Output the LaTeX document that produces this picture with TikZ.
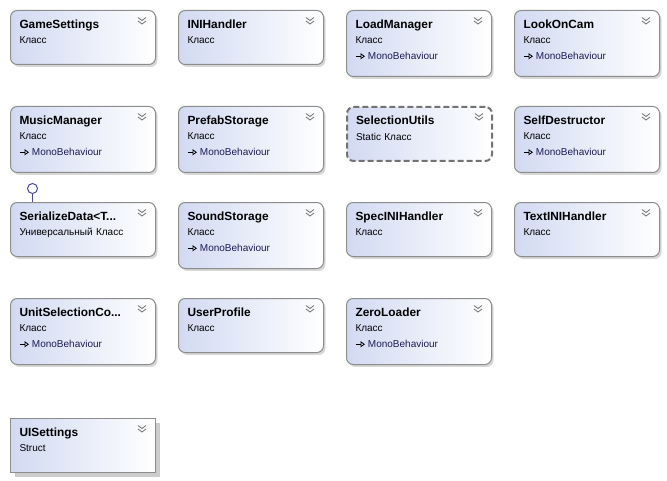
\documentclass[tikz,border=0pt]{standalone}
\usepackage{fontspec}
\setmainfont{Liberation Sans}
\usepackage{tikz}
\usetikzlibrary{shapes,arrows.meta,positioning,shadows,calc}

\definecolor{boxblue}{RGB}{210,218,242}
\definecolor{boxline}{RGB}{140,140,140}
\definecolor{basecol}{RGB}{28,28,85}
\definecolor{ifacecol}{RGB}{75,70,170}

\newcommand{\ctitle}[1]{{\fontsize{8.9pt}{11.6pt}\selectfont\bfseries #1}}
\newcommand{\inherits}[1]{\tikz[baseline=-0.6ex]\draw[line width=0.6pt,-{Triangle[open,length=3.2pt,width=4.5pt]}] (0pt,0pt) -- (6.75pt,0pt);\hspace{2pt}{\color{basecol}#1}}

\begin{document}
\begin{tikzpicture}[
    x=0.75pt, y=-0.75pt,
    basebox/.style={rectangle, draw=boxline, line width=0.75pt, rounded corners=5pt, anchor=north west,
        text width=95.25pt, inner xsep=6.75pt, inner ysep=0pt, align=left,
        text height=13.5pt, text depth=27pt, left color=boxblue, right color=white,
        font=\fontsize{7.5pt}{11.6pt}\selectfont},
    classbox/.style={basebox, drop shadow={shadow xshift=1.5pt, shadow yshift=-1.8pt, fill=black!45, opacity=0.35}},
    tall/.style={text depth=36pt},
    staticbox/.style={basebox, draw=black!55, line width=1.5pt, dash pattern=on 4.5pt off 2.25pt},
    structbox/.style={basebox, rounded corners=0pt, drop shadow={shadow xshift=3pt, shadow yshift=-3pt, fill=black!50, opacity=0.4}},
    chevron/.style={draw=black!55, line width=0.65pt},
    lollipop/.style={draw=ifacecol, line width=0.75pt}
]
    \useasboundingbox (0,0) rectangle (667,481);

    % Row 1
    \node[classbox] (gameSettings) at (10,10) {\ctitle{GameSettings}\\Класс};
    \node[classbox] (iniHandler) at (178,10) {\ctitle{INIHandler}\\Класс};
    \node[classbox, tall] (loadManager) at (346,10) {\ctitle{LoadManager}\\Класс\\\inherits{MonoBehaviour}};
    \node[classbox, tall] (lookOnCam) at (514,10) {\ctitle{LookOnCam}\\Класс\\\inherits{MonoBehaviour}};

    % Row 2
    \node[classbox, tall] (musicManager) at (10,106) {\ctitle{MusicManager}\\Класс\\\inherits{MonoBehaviour}};
    \node[classbox, tall] (prefabStorage) at (178,106) {\ctitle{PrefabStorage}\\Класс\\\inherits{MonoBehaviour}};
    \node[staticbox] (selectionUtils) at (346,106) {\ctitle{SelectionUtils}\\Static Класс};
    \node[classbox, tall] (selfDestructor) at (514,106) {\ctitle{SelfDestructor}\\Класс\\\inherits{MonoBehaviour}};

    % Row 3
    \node[classbox] (serializeData) at (10,202) {\ctitle{SerializeData<T...}\\Универсальный Класс};
    \node[classbox, tall] (soundStorage) at (178,202) {\ctitle{SoundStorage}\\Класс\\\inherits{MonoBehaviour}};
    \node[classbox] (specIniHandler) at (346,202) {\ctitle{SpecINIHandler}\\Класс};
    \node[classbox] (textIniHandler) at (514,202) {\ctitle{TextINIHandler}\\Класс};

    % Row 4
    \node[classbox, tall] (unitSelection) at (10,298) {\ctitle{UnitSelectionCo...}\\Класс\\\inherits{MonoBehaviour}};
    \node[classbox] (userProfile) at (178,298) {\ctitle{UserProfile}\\Класс};
    \node[classbox, tall] (zeroLoader) at (346,298) {\ctitle{ZeroLoader}\\Класс\\\inherits{MonoBehaviour}};

    % Struct
    \node[structbox] (uiSettings) at (10,418) {\ctitle{UISettings}\\Struct};

    % Expand chevrons
    \foreach \cls in {gameSettings, iniHandler, loadManager, lookOnCam, musicManager, prefabStorage,
        selectionUtils, selfDestructor, serializeData, soundStorage, specIniHandler, textIniHandler,
        unitSelection, userProfile, zeroLoader, uiSettings}
    {
        \draw[chevron] ($(\cls.north east)+(-18,7.5)$) -- ++(4,3) -- ++(4,-3);
        \draw[chevron] ($(\cls.north east)+(-18,11)$) -- ++(4,3) -- ++(4,-3);
    }

    % Interface lollipop
    \coordinate (iface) at ($(serializeData.north west)+(22.5,-13.5)$);
    \draw[lollipop] (iface) circle[radius=3.75pt];
    \draw[lollipop] ($(iface)+(0,5)$) -- (serializeData.north west -| iface);
\end{tikzpicture}
\end{document}
